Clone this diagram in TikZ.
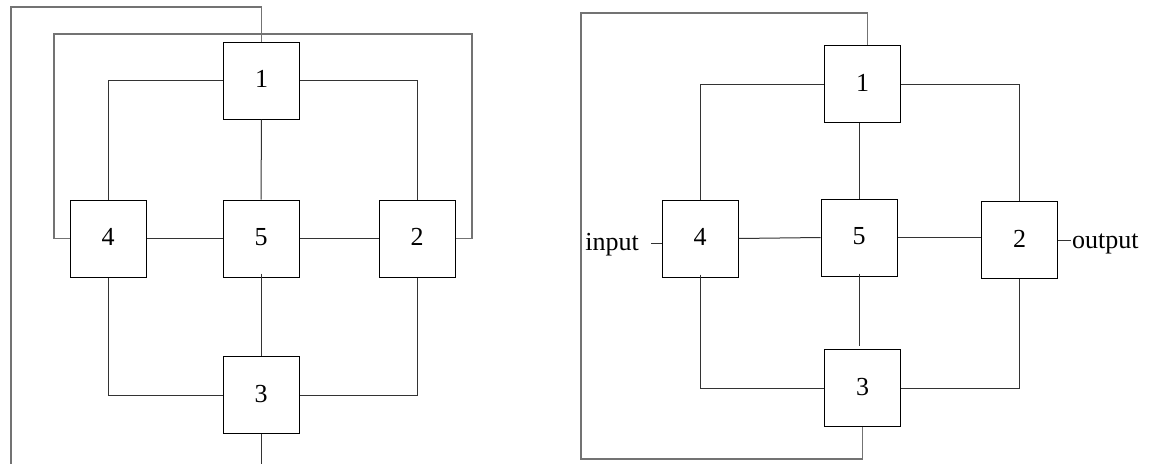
\documentclass[tikz,border=0pt]{standalone}
\usepackage{fontspec}
\setmainfont{Liberation Serif}
\begin{document}
\begin{tikzpicture}[x=1pt,y=-1pt,
  blk/.style={draw=black,line width=1pt,minimum width=76pt,minimum height=77pt,inner sep=0pt,text depth=3pt,font=\fontsize{26}{30}\selectfont},
  wire/.style={draw=black!80,line width=1pt},
  loop/.style={draw=black!55,line width=1.2pt},
  lbl/.style={inner sep=0pt,font=\fontsize{26}{30}\selectfont}]
\useasboundingbox (0,0) rectangle (1152,464);
% ---------- left diagram ----------
\node[blk] (L1) at (261.5,80.5) {1};
\node[blk] (L4) at (108,238.5) {4};
\node[blk] (L5) at (261,238.5) {5};
\node[blk] (L2) at (417,238.5) {2};
\node[blk] (L3) at (261,395) {3};
\coordinate (lo1) at (11,7);
\coordinate (lo2) at (11,464);
\coordinate (la) at (54,34);
\coordinate (lb) at (472,34);
\coordinate (l3b) at (261,464);
\draw[wire] (L1.west) -| (L4.north);
\draw[wire] (L1.east) -| (L2.north);
\draw[wire] (L1.south) -- (L5.north);
\draw[wire] (L4.east) -- (L5.west);
\draw[wire] (L5.east) -- (L2.west);
\draw[wire] (L4.south) |- (L3.west);
\draw[wire] (L2.south) |- (L3.east);
\draw[wire] ([yshift=4]L5.south) -- (L3.north);
\draw[wire] (L3.south) -- (l3b);
\draw[loop] (L1.north) |- (lo1) -- (lo2);
\draw[loop] (L4.west) -| (la) -- (lb) |- (L2.east);
% ---------- right diagram ----------
\node[blk] (R1) at (862.5,84) {1};
\node[blk] (R4) at (700,238.5) {4};
\node[blk] (R5) at (859,237.5) {5};
\node[blk] (R2) at (1019.5,240) {2};
\node[blk] (R3) at (862.5,388) {3};
\coordinate (ro1) at (581,13);
\coordinate (ro2) at (581,459);
\coordinate (inE) at (651,243);
\coordinate (outE) at (1071,240);
\draw[wire] (R1.west) -| (R4.north);
\draw[wire] (R1.east) -| (R2.north);
\draw[wire] ([xshift=-3]R1.south) -- ([xshift=-3]R1.south |- R5.north);
\draw[wire] (R4.east) -- (R5.west);
\draw[wire] (R5.east) -- (R5.east -| R2.west);
\draw[wire] ([yshift=3]R4.south) |- (R3.west);
\draw[wire] (R2.south) |- (R3.east);
\draw[wire] ([yshift=3]R5.south) -- ([yshift=3]R5.south |- R3.north);
\draw[loop] ([xshift=5]R1.north) -- ++(0,-4) |- (ro1) -- (ro2) -| (R3.south);
\draw[wire] (inE) -- (inE -| R4.west);
\draw[wire] (R2.east) -- (outE);
\node[lbl,anchor=base east] (inp) at (639,250) {input};
\node[lbl,anchor=base west] (outp) at (1072,248) {output};
\end{tikzpicture}
\end{document}
